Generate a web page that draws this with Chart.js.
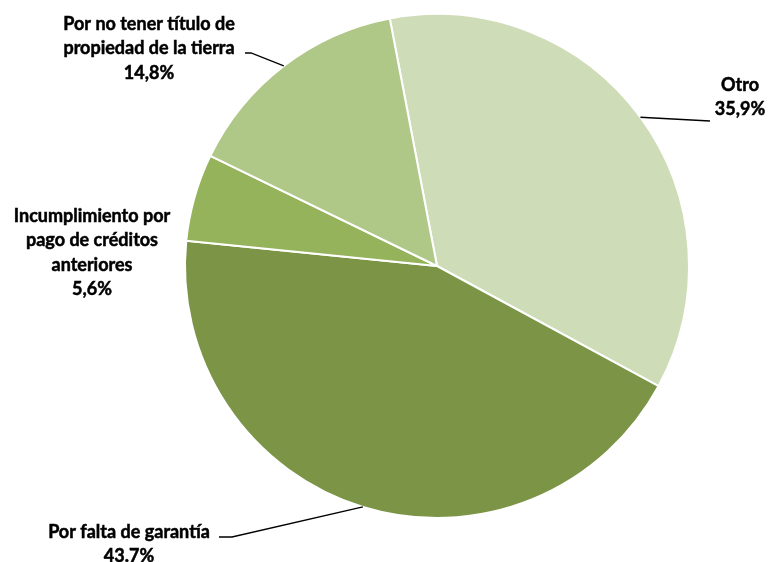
<!DOCTYPE html>
<html>
<head>
<meta charset="utf-8">
<script src="https://cdn.jsdelivr.net/npm/chart.js@4"></script>
<style>
  html, body { margin: 0; padding: 0; background: #fff; }
  #wrap { width: 768px; height: 562px; }
</style>
</head>
<body>
<div id="wrap"><canvas id="chart"></canvas></div>
<script>
var categories = ['Otro', 'Por falta de garantía', 'Incumplimiento por pago de créditos anteriores', 'Por no tener título de propiedad de la tierra'];
var values = [35.9, 43.7, 5.6, 14.8];
var valueLabels = ['35,9%', '43.7%', '5,6%', '14,8%'];
var colors = ['#cfdcb8', '#7b9446', '#95b35a', '#afc787'];

// where each label is written (lines, centre x, first line y) and where its leader ends
var labelLayout = [
  { lines: ['Otro', '35,9%'], x: 740, y: 85, leader: [[710, 121]] },
  { lines: ['Por falta de garantía', '43.7%'], x: 129, y: 532, leader: [[219, 537], [232, 537]] },
  { lines: ['Incumplimiento por', 'pago de créditos', 'anteriores', '5,6%'], x: 92, y: 216, leader: null },
  { lines: ['Por no tener título de', 'propiedad de la tierra', '14,8%'], x: 149, y: 24, leader: [[245, 53], [251, 53]] }
];

var pieLabels = {
  id: 'pieLabels',
  afterDatasetsDraw: function(chart) {
    var ctx = chart.ctx;
    var arcs = chart.getDatasetMeta(0).data;
    ctx.save();
    arcs.forEach(function(arc, i) {
      var lay = labelLayout[i];
      if (lay.leader) {
        var p = arc.getProps(['x', 'y', 'startAngle', 'endAngle', 'outerRadius'], true);
        var mid = (p.startAngle + p.endAngle) / 2;
        var sx = p.x + Math.cos(mid) * p.outerRadius;
        var sy = p.y + Math.sin(mid) * p.outerRadius;
        ctx.beginPath();
        ctx.strokeStyle = '#000';
        ctx.lineWidth = 1.3;
        ctx.moveTo(lay.leader[0][0], lay.leader[0][1]);
        for (var k = 1; k < lay.leader.length; k++) ctx.lineTo(lay.leader[k][0], lay.leader[k][1]);
        ctx.lineTo(sx, sy);
        ctx.stroke();
      }
      ctx.fillStyle = '#000';
      ctx.strokeStyle = '#000';
      ctx.lineWidth = 0.5;
      ctx.font = 'bold 18px Lato';
      ctx.textAlign = 'center';
      ctx.textBaseline = 'middle';
      lay.lines.forEach(function(t, j) {
        ctx.fillText(t, lay.x, lay.y + j * 24.5);
        ctx.strokeText(t, lay.x, lay.y + j * 24.5);
      });
    });
    ctx.restore();
  }
};

var ctx = document.getElementById('chart').getContext('2d');
var config = {
  type: 'pie',
  data: {
    labels: categories,
    datasets: [{
      data: values,
      backgroundColor: colors,
      borderColor: '#ffffff',
      borderWidth: 2
    }]
  },
  options: {
    responsive: true,
    maintainAspectRatio: false,
    animation: false,
    rotation: -10.8,
    layout: { padding: { left: 184, right: 78, top: 13, bottom: 43 } },
    plugins: {
      legend: { display: false },
      tooltip: { enabled: false }
    }
  },
  plugins: [pieLabels]
};

var myChart = new Chart(ctx, config);
</script>
</body>
</html>
